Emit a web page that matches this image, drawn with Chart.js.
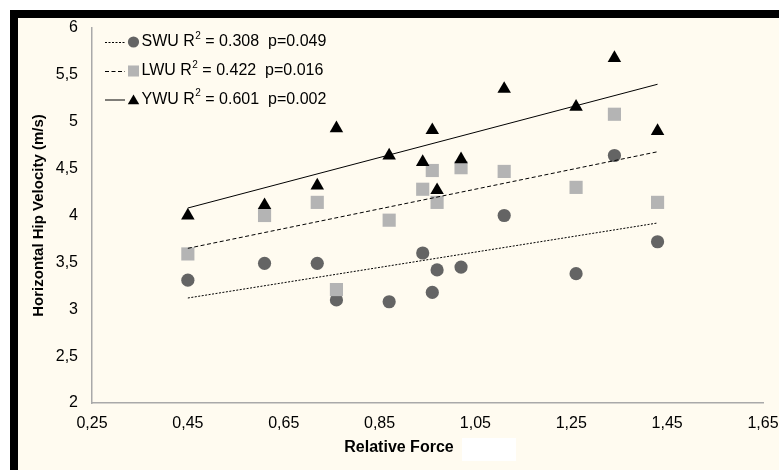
<!DOCTYPE html>
<html>
<head>
<meta charset="utf-8">
<script src="https://cdn.jsdelivr.net/npm/chart.js@4"></script>
<style>
  html, body { margin: 0; padding: 0; background: #fff; overflow: hidden; }
  #frame { position: absolute; left: 10px; top: 10px; right: 0; bottom: 0;
           border-left: 8px solid #000; border-top: 8px solid #000; background: #fffbf0; }
  #chart { position: absolute; left: 0; top: 0; }
</style>
</head>
<body>
<div id="frame"></div>
<canvas id="chart" width="779" height="470"></canvas>
<script>
// dati
const forces = [0.45, 0.61, 0.72, 0.76, 0.87, 0.94, 0.96, 0.97, 1.02, 1.11, 1.26, 1.34, 1.43];
const swu = [3.31, 3.49, 3.49, 3.10, 3.08, 3.60, 3.18, 3.42, 3.45, 4.00, 3.38, 4.64, 3.72];
const lwu = [3.59, 4.00, 4.14, 3.21, 3.95, 4.28, 4.48, 4.14, 4.51, 4.47, 4.30, 5.08, 4.14];
const ywu = [4.00, 4.11, 4.32, 4.93, 4.64, 4.57, 4.91, 4.27, 4.60, 5.35, 5.16, 5.68, 4.90];

// linee di tendenza (estremi)
const trendX = [0.45, 1.43];
const swuTrend = [3.12, 3.92];
const lwuTrend = [3.65, 4.68];
const ywuTrend = [4.08, 5.40];

const xTicks = [0.25, 0.45, 0.65, 0.85, 1.05, 1.25, 1.45, 1.65];

const groups = ['SWU', 'LWU', 'YWU'];
const r2Vals = ['0.308', '0.422', '0.601'];
const pVals = ['0.049', '0.016', '0.002'];

const FONT = "'Liberation Sans', Arial, sans-serif";

function pts(xs, ys) { return xs.map((x, i) => ({ x: x, y: ys[i] })); }

const markers = [
  { pointStyle: 'circle', radius: 6.6, color: '#646464', legendRadius: 5.6, dash: [2, 1.5] },
  { pointStyle: 'rect', radius: 9.3, color: '#b4b4b4', legendRadius: 7.8, dash: [4, 2.5] },
  { pointStyle: 'triangle', radius: 7.8, color: '#000000', legendRadius: 6.6, dash: [] }
];
const seriesData = [swu, lwu, ywu];
const trendData = [swuTrend, lwuTrend, ywuTrend];

let datasets = [];
groups.forEach((g, i) => {
  datasets.push({
    label: g,
    data: pts(forces, seriesData[i]),
    pointStyle: markers[i].pointStyle,
    pointRadius: markers[i].radius,
    pointHoverRadius: markers[i].radius,
    pointBackgroundColor: markers[i].color,
    pointBorderWidth: 0,
    showLine: false,
    order: 3 - i
  });
  datasets.push({
    label: g + ' trend',
    data: pts(trendX, trendData[i]),
    showLine: true,
    pointRadius: 0,
    borderColor: '#000',
    borderWidth: 1,
    borderDash: markers[i].dash,
    fill: false,
    order: 0
  });
});

// legenda e titolo asse x disegnati a mano
const extras = {
  id: 'extras',
  afterDraw(chart) {
    const ctx = chart.ctx;
    ctx.save();
    const rowY = [42, 71, 99.5];
    groups.forEach((g, i) => {
      let y = rowY[i];
      ctx.strokeStyle = '#000';
      ctx.lineWidth = 1;
      ctx.setLineDash(markers[i].dash);
      ctx.beginPath();
      ctx.moveTo(105, y + 0.5);
      ctx.lineTo(125, y + 0.5);
      ctx.stroke();
      ctx.setLineDash([]);
      ctx.fillStyle = markers[i].color;
      Chart.helpers.drawPoint(ctx, { pointStyle: markers[i].pointStyle, radius: markers[i].legendRadius, borderWidth: 0, rotation: 0 }, 133.5, y + (i === 2 ? 1.5 : 0));

      ctx.fillStyle = '#000';
      ctx.textBaseline = 'middle';
      ctx.textAlign = 'left';
      ctx.font = '16px ' + FONT;
      let x = 141.5;
      let t1 = g + ' R';
      ctx.fillText(t1, x, y);
      x += ctx.measureText(t1).width;
      ctx.font = '10px ' + FONT;
      ctx.fillText('2', x + 0.5, y - 6);
      x += ctx.measureText('2').width + 0.5;
      ctx.font = '16px ' + FONT;
      ctx.fillText(' = ' + r2Vals[i] + '  p=' + pVals[i], x, y);
    });

    ctx.font = 'bold 16px ' + FONT;
    ctx.textAlign = 'center';
    ctx.textBaseline = 'middle';
    ctx.fillText('Relative Force', 399, 448);
    ctx.fillStyle = '#ffffff';
    ctx.fillRect(462, 438, 54, 23);
    ctx.restore();
  }
};

new Chart(document.getElementById('chart'), {
  type: 'scatter',
  data: { datasets: datasets },
  plugins: [extras],
  options: {
    responsive: false,
    animation: false,
    layout: { padding: { left: 0, top: 28, right: 16, bottom: 0 } },
    plugins: { legend: { display: false }, tooltip: { enabled: false } },
    scales: {
      x: {
        type: 'linear',
        min: 0.25,
        max: 1.65,
        afterBuildTicks: (scale) => { scale.ticks = xTicks.map(v => ({ value: v })); },
        afterFit: (scale) => { scale.height = 67; scale.paddingLeft = 0; scale.paddingRight = 0; },
        grid: { display: false, drawTicks: false },
        border: { display: true, color: '#a9a9a9', width: 1.5 },
        ticks: {
          color: '#000',
          padding: 11,
          maxRotation: 0,
          autoSkip: false,
          font: { family: FONT, size: 16 },
          callback: (v) => v.toFixed(2).replace('.', ',')
        }
      },
      y: {
        min: 2,
        max: 6,
        afterFit: (scale) => { scale.width = 92; scale.paddingTop = 0; scale.paddingBottom = 0; },
        grid: { display: false, drawTicks: false },
        border: { display: true, color: '#a9a9a9', width: 1.5 },
        ticks: {
          stepSize: 0.5,
          color: '#000',
          padding: 14,
          font: { family: FONT, size: 16 },
          callback: (v) => String(v).replace('.', ',')
        },
        title: {
          display: true,
          text: 'Horizontal Hip Velocity (m/s)',
          color: '#000',
          padding: { top: 30, bottom: 0 },
          font: { family: FONT, size: 15, weight: 'bold' }
        }
      }
    }
  }
});
</script>
</body>
</html>
